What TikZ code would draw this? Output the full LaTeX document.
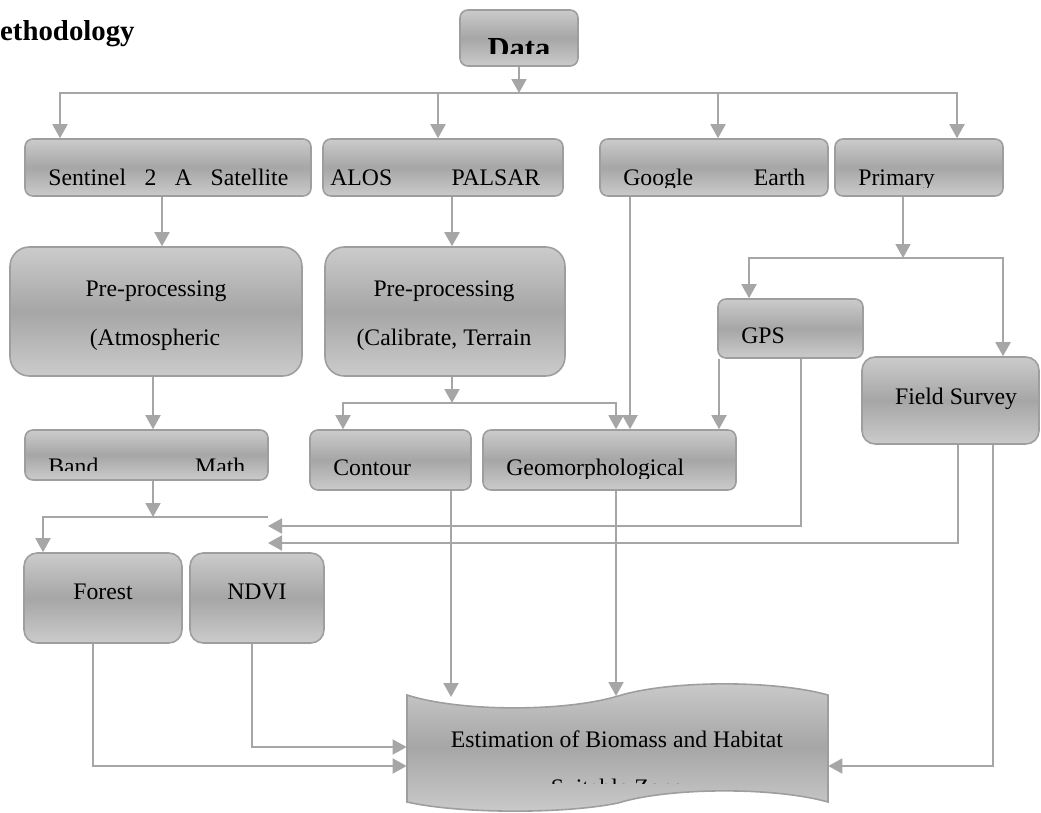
\documentclass[tikz,border=0pt]{standalone}
\usepackage{fontspec}
\setmainfont{Liberation Serif}
\usetikzlibrary{arrows.meta,fit}

\definecolor{boxlight}{RGB}{203,203,203}
\definecolor{boxdark}{RGB}{166,166,166}
\definecolor{boxline}{RGB}{158,158,158}
\definecolor{linkgray}{RGB}{166,166,166}

\begin{document}
\begin{tikzpicture}[x=0.02cm, y=-0.02cm,
  box/.style={rectangle, rounded corners=4.5pt, draw=boxline, line width=0.9pt, top color=boxlight, bottom color=boxlight, middle color=boxdark, inner sep=0pt},
  roundbox/.style={box, rounded corners=11pt},
  softbox/.style={box, rounded corners=7.5pt},
  lbl/.style={font=\fontsize{13.5}{16}\selectfont, inner sep=0pt, anchor=base},
  lblw/.style={lbl, anchor=base west},
  link/.style={draw=linkgray, line width=1.1pt, -{Triangle[length=0.28cm, width=0.3cm]}}
]
\useasboundingbox (0,0) rectangle (1041,812);
% Title
\node[font=\fontsize{16.4}{19}\selectfont\bfseries, inner sep=0pt, anchor=base east] (title) at (135,40) {ethodology};
% Top: data and its sources
\node[box, fit={(460,10) (578,66)}] (data) {};
\node[box, fit={(25,139) (311,196)}] (sentinel) {};
\node[box, fit={(323,139) (563,196)}] (alos) {};
\node[box, fit={(600,139) (828,196)}] (google) {};
\node[box, fit={(835,139) (1003,196)}] (primary) {};
% Pre-processing
\node[roundbox, fit={(10,247) (302,376)}] (preA) {};
\node[roundbox, fit={(325,247) (565,376)}] (preB) {};
\node[box, fit={(718,299) (863,358)}] (gps) {};
\node[softbox, fit={(862,357) (1039,444)}] (field) {};
% Derived layers
\node[box, fit={(25,430) (268,480)}] (band) {};
\node[box, fit={(310,430) (471,490)}] (contour) {};
\node[box, fit={(483,430) (736,490)}] (geo) {};
\node[softbox, fit={(24,553) (182,643)}] (forest) {};
\node[softbox, fit={(190,553) (324,643)}] (ndvi) {};
% Result (wave)
\path[draw=boxline, line width=0.9pt, top color=boxlight, bottom color=boxlight, middle color=boxdark]
  (407,695) .. controls (460,712) and (565,712) .. (618,696)
  .. controls (670,680) and (775,680) .. (828,695)
  -- (828,802) .. controls (775,787) and (670,787) .. (618,803)
  .. controls (565,814) and (460,814) .. (407,802) -- cycle;
\node[fit={(407,684) (828,813)}, inner sep=0pt] (est) {};

% Branch points
\coordinate (bus) at (519,93);
\coordinate (fork) at (903,258);
\coordinate (split) at (452,403);
\coordinate (join) at (153,517);
\coordinate (joinend) at (268,517);
\coordinate (inGPS) at (268,526);
\coordinate (inField) at (268,543);
\coordinate (estA) at (451,697);
\coordinate (estB) at (616,696);

% Connectors
\draw[link] (data) -- (bus);
\draw[link] (bus) -| (sentinel.north -| 60,0);
\draw[link] (bus) -| (alos.north -| 438,0);
\draw[link] (bus) -| (google.north -| 718,0);
\draw[link] (bus) -| (primary.north -| 957,0);
\draw[link] (sentinel.south -| 162,0) -- (preA.north -| 162,0);
\draw[link] (alos.south -| 452,0) -- (preB.north -| 452,0);
\draw[link] (google.south -| 630,0) -- (geo.north -| 630,0);
\draw[link] (primary.south -| 903,0) -- (fork);
\draw[link] (fork) -| (gps.north -| 749,0);
\draw[link] (fork) -| (field.north -| 1003,0);
\draw[link] (preA.south -| 153,0) -- (band.north -| 153,0);
\draw[link] (preB.south -| 452,0) -- (split);
\draw[link] (split) -| (contour.north -| 343,0);
\draw[link] (split) -| (geo.north -| 616,0);
\draw[link] (gps.south -| 719,0) -- (geo.north -| 719,0);
\draw[link] (gps.south -| 801,0) |- (inGPS);
\draw[link] (field.south -| 958,0) |- (inField);
\draw[link] (field.south -| 993,0) |- (est.east |- 0,766);
\draw[link] (band.south -| 153,0) -- (join);
\draw[link] (joinend) -| (forest.north -| 43,0);
\draw[link] (contour.south -| 451,0) -- (estA);
\draw[link] (geo.south -| 616,0) -- (estB);
\draw[link] (forest.south -| 93,0) |- (est.west |- 0,766);
\draw[link] (ndvi.south -| 252,0) |- (est.west |- 0,747);

% Labels
\begin{scope}
  \clip (460,10) rectangle (578,53);
  \node[font=\fontsize{17.4}{20}\selectfont\bfseries, inner sep=0pt, anchor=base] (datatxt) at (519,58.5) {Data};
\end{scope}
\node[lblw] (sentineltxt) at (48,185) {\makebox[4.8cm][s]{Sentinel 2 A Satellite}};
\node[lblw] (alostxt) at (330,185) {\makebox[4.2cm][s]{ALOS PALSAR}};
\begin{scope}
  \clip (600,139) rectangle (1003,187);
  \node[lblw] (googletxt) at (623,185) {\makebox[3.64cm][s]{Google Earth}};
  \node[lblw] (primarytxt) at (858,185) {Primary};
\end{scope}
\node[lbl] (preAtop) at (156,296) {Pre-processing};
\node[lbl] (preAbot) at (155,345) {(Atmospheric};
\node[lbl] (preBtop) at (444,296) {Pre-processing};
\node[lbl] (preBbot) at (444,345) {(Calibrate, Terrain};
\node[lblw] (gpstxt) at (741,343) {GPS};
\node[lbl] (fieldtxt) at (956,404) {Field Survey};
\begin{scope}
  \clip (25,430) rectangle (268,470);
  \node[lblw] (bandtxt) at (48,474) {\makebox[3.94cm][s]{Band Math}};
\end{scope}
\node[lblw] (contourtxt) at (333,475) {Contour};
\begin{scope}
  \clip (483,430) rectangle (736,478);
  \node[lblw] (geotxt) at (506,475) {Geomorphological};
\end{scope}
\node[lbl] (foresttxt) at (103,599) {Forest};
\node[lbl] (ndvitxt) at (257,599) {NDVI};
\node[lbl] (esttxt) at (617,747) {Estimation of Biomass and Habitat};
\begin{scope}
  \clip (407,760) rectangle (828,783);
  \node[lbl] (zonetxt) at (617,795) {Suitable Zone};
\end{scope}
\end{tikzpicture}
\end{document}
